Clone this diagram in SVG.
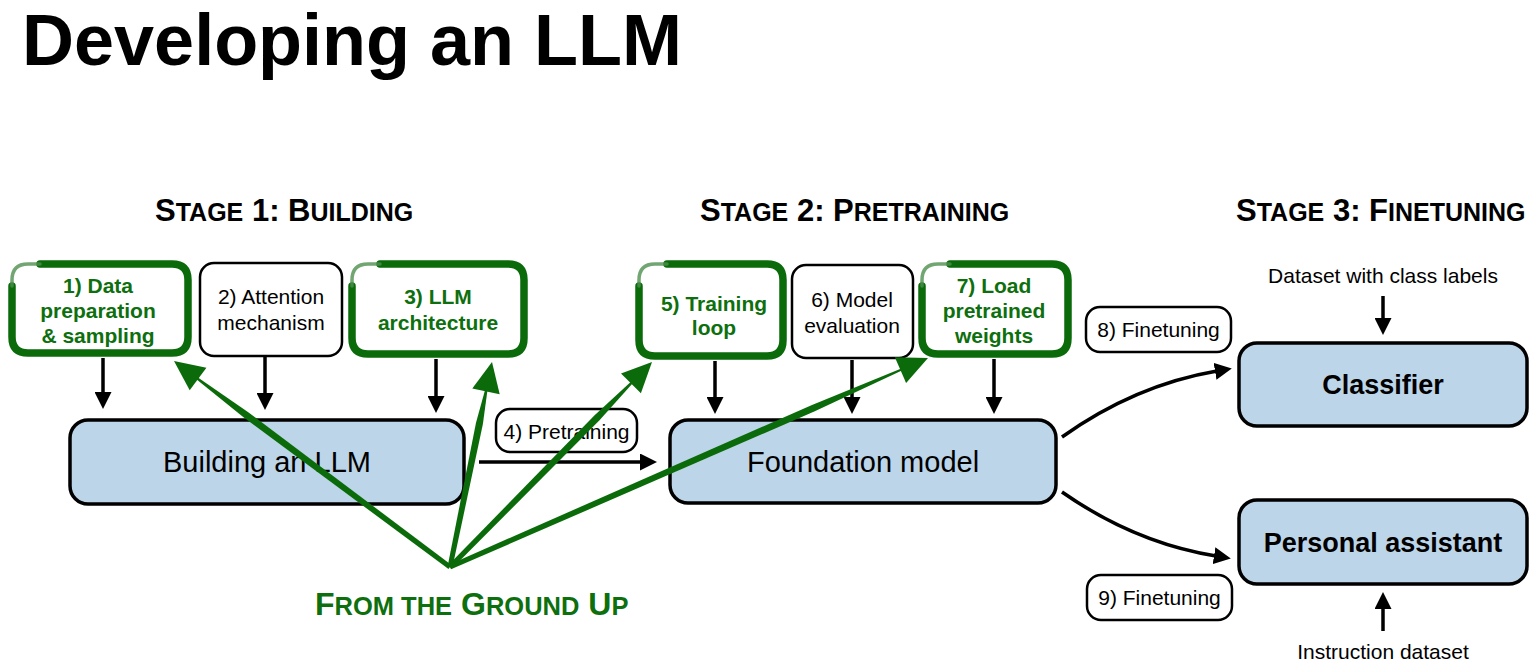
<svg xmlns="http://www.w3.org/2000/svg" width="1533" height="668" viewBox="0 0 1533 668">
<defs>
<style>
text{font-family:"Liberation Sans",Arial,sans-serif;fill:#000}
.title{font-size:72px;font-weight:bold}
.stage{font-weight:bold;font-size:31px}
.sm{font-size:25px}
.g{fill:#0e6f0e;font-weight:bold;font-size:21px}
.lbl{font-size:21px}
.big{font-size:29px}
.bigb{font-size:27px;font-weight:bold}
.blue{fill:#bdd5e8;stroke:#000;stroke-width:3.5}
.wbox{fill:#fff;stroke:#000;stroke-width:2.5}
.gthick{fill:none;stroke:#0b6b0b;stroke-width:7.5;stroke-linecap:round;stroke-linejoin:round}
.gthin{fill:none;stroke:#4d8f4d;stroke-width:3.5;stroke-linecap:round;opacity:0.8}
.con{fill:none;stroke:#000;stroke-width:3.5}
.gfill{fill:#0b6b0b}
</style>
<marker id="ah" markerUnits="userSpaceOnUse" markerWidth="17" markerHeight="17" viewBox="0 0 17 17" refX="2" refY="8.5" orient="auto">
<path d="M0,0 L17,8.5 L0,17 Z" fill="#000"/>
</marker>
</defs>

<text class="title" x="22" y="65">Developing an LLM</text>

<text class="stage" x="155" y="221">S<tspan class="sm">TAGE</tspan> 1: B<tspan class="sm">UILDING</tspan></text>
<text class="stage" x="700" y="221">S<tspan class="sm">TAGE</tspan> 2: P<tspan class="sm">RETRAINING</tspan></text>
<text class="stage" x="1236" y="221">S<tspan class="sm">TAGE</tspan> 3: F<tspan class="sm">INETUNING</tspan></text>

<g id="node-data">
<rect x="12" y="264" width="176" height="89" rx="16" fill="#fff"/>
<path class="gthick" d="M40,264 H172 Q188,264 188,280 V337 Q188,353 172,353 H28 Q12,353 12,337 V286"/>
<path class="gthin" d="M12,286 V280 Q12,264 28,264 H40"/>
<text class="g" text-anchor="middle" x="98" y="293">1) Data</text>
<text class="g" text-anchor="middle" x="98" y="318">preparation</text>
<text class="g" text-anchor="middle" x="98" y="343">&amp; sampling</text>
</g>

<g id="node-attention">
<rect class="wbox" x="200" y="263" width="142" height="93" rx="14"/>
<text class="lbl" text-anchor="middle" x="271" y="304">2) Attention</text>
<text class="lbl" text-anchor="middle" x="271" y="330">mechanism</text>
</g>

<g id="node-arch">
<rect x="352" y="264" width="172" height="90" rx="16" fill="#fff"/>
<path class="gthick" d="M380,264 H508 Q524,264 524,280 V338 Q524,354 508,354 H368 Q352,354 352,338 V286"/>
<path class="gthin" d="M352,286 V280 Q352,264 368,264 H380"/>
<text class="g" text-anchor="middle" x="438" y="304">3) LLM</text>
<text class="g" text-anchor="middle" x="438" y="330">architecture</text>
</g>

<g id="node-training">
<rect x="639" y="264" width="144" height="92" rx="16" fill="#fff"/>
<path class="gthick" d="M667,264 H767 Q783,264 783,280 V340 Q783,356 767,356 H655 Q639,356 639,340 V286"/>
<path class="gthin" d="M639,286 V280 Q639,264 655,264 H667"/>
<text class="g" text-anchor="middle" x="714" y="311">5) Training</text>
<text class="g" text-anchor="middle" x="714" y="335">loop</text>
</g>

<g id="node-eval">
<rect class="wbox" x="792" y="265" width="121" height="93" rx="14"/>
<text class="lbl" text-anchor="middle" x="852" y="307">6) Model</text>
<text class="lbl" text-anchor="middle" x="852" y="333">evaluation</text>
</g>

<g id="node-weights">
<rect x="922" y="264" width="146" height="90" rx="16" fill="#fff"/>
<path class="gthick" d="M950,264 H1052 Q1068,264 1068,280 V338 Q1068,354 1052,354 H938 Q922,354 922,338 V286"/>
<path class="gthin" d="M922,286 V280 Q922,264 938,264 H950"/>
<text class="g" text-anchor="middle" x="994" y="293">7) Load</text>
<text class="g" text-anchor="middle" x="994" y="318">pretrained</text>
<text class="g" text-anchor="middle" x="994" y="343">weights</text>
</g>

<g id="node-building">
<rect class="blue" x="70" y="420" width="394" height="84" rx="18"/>
<text class="big" text-anchor="middle" x="267" y="472">Building an LLM</text>
</g>

<g id="node-foundation">
<rect class="blue" x="670" y="420" width="386" height="83" rx="18"/>
<text class="big" text-anchor="middle" x="863" y="472">Foundation model</text>
</g>

<g id="node-classifier">
<rect class="blue" x="1239" y="343" width="288" height="83" rx="18"/>
<text class="bigb" text-anchor="middle" x="1383" y="394">Classifier</text>
</g>

<g id="node-assistant">
<rect class="blue" x="1239" y="500" width="288" height="84" rx="18"/>
<text class="bigb" text-anchor="middle" x="1383" y="552">Personal assistant</text>
</g>

<g id="label-pretraining">
<rect class="wbox" x="496" y="409" width="141" height="43" rx="14"/>
<text class="lbl" text-anchor="middle" x="566.5" y="439">4) Pretraining</text>
</g>

<g id="label-ft8">
<rect class="wbox" x="1086" y="307" width="145" height="45" rx="14"/>
<text class="lbl" text-anchor="middle" x="1158.5" y="337">8) Finetuning</text>
</g>

<g id="label-ft9">
<rect class="wbox" x="1087" y="575" width="145" height="45" rx="14"/>
<text class="lbl" text-anchor="middle" x="1159.5" y="605">9) Finetuning</text>
</g>

<g id="label-datasets">
<text class="lbl" text-anchor="middle" x="1383" y="283">Dataset with class labels</text>
<text class="lbl" text-anchor="middle" x="1383" y="659">Instruction dataset</text>
</g>

<g id="connectors">
<line class="con" x1="103" y1="358" x2="103" y2="394" marker-end="url(#ah)"/>
<line class="con" x1="265" y1="357" x2="265" y2="395" marker-end="url(#ah)"/>
<line class="con" x1="436" y1="359" x2="436" y2="398" marker-end="url(#ah)"/>
<line class="con" x1="715" y1="361" x2="715" y2="399" marker-end="url(#ah)"/>
<line class="con" x1="852" y1="360" x2="852" y2="399" marker-end="url(#ah)"/>
<line class="con" x1="994" y1="359" x2="994" y2="399" marker-end="url(#ah)"/>
<line class="con" x1="479" y1="462" x2="642" y2="462" stroke-width="4" marker-end="url(#ah)"/>
<path class="con" d="M1062,437 Q1135,385 1217,371" stroke-width="3" marker-end="url(#ah)"/>
<path class="con" d="M1062,492 Q1135,543 1216,556" stroke-width="3" marker-end="url(#ah)"/>
<line class="con" x1="1383" y1="296" x2="1383" y2="320" marker-end="url(#ah)"/>
<line class="con" x1="1383" y1="631" x2="1383" y2="607" marker-end="url(#ah)"/>
</g>

<g id="green-connectors">
<polygon class="gfill" points="451.5,565.0 247.9,411.9 195.4,375.8 194.2,377.4 243.8,417.5 448.5,569.0"/>
<polygon class="gfill" points="174,361 206.4,367.7 189.7,390.2"/>
<polygon class="gfill" points="452.4,567.5 482.9,424.1 487.8,387.7 485.8,387.3 476.0,422.7 447.6,566.5"/>
<polygon class="gfill" points="492,362 499.7,394.2 472.3,388.6"/>
<polygon class="gfill" points="451.8,568.8 599.5,420.3 634.5,381.2 633.1,379.8 594.6,415.3 448.2,565.3"/>
<polygon class="gfill" points="652,362 640.9,393.2 621.0,373.5"/>
<polygon class="gfill" points="451.0,569.3 814.8,411.3 904.6,369.3 903.8,367.5 812.0,404.9 449.0,564.7"/>
<polygon class="gfill" points="928,358 906.1,382.9 894.9,357.2"/>
</g>

<text x="315" y="615" style="font-weight:bold;font-size:32px;fill:#0e6f0e">F<tspan style="font-size:25.5px">ROM THE</tspan> G<tspan style="font-size:25.5px">ROUND</tspan> U<tspan style="font-size:25.5px">P</tspan></text>
</svg>
